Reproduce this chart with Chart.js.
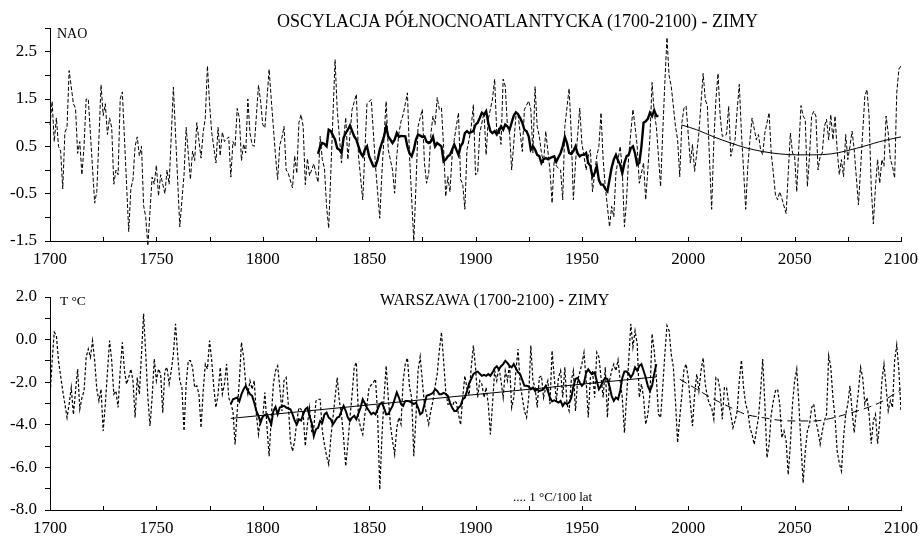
<!DOCTYPE html>
<html>
<head>
<meta charset="utf-8">
<script src="https://cdn.jsdelivr.net/npm/chart.js@4.4.1/dist/chart.umd.min.js"></script>
<style>
  body { margin: 0; background: #fff; width: 919px; height: 538px; overflow: hidden; position: relative;
         font-family: "Liberation Serif", "Times New Roman", serif; color: #000; }
  canvas { position: absolute; left: 0; }
  .lbl { position: absolute; white-space: nowrap; line-height: 1; }
</style>
</head>
<body>
<canvas id="chartNao" width="919" height="270" style="top:0"></canvas>
<canvas id="chartWaw" width="919" height="271" style="top:268px"></canvas>

<div class="lbl" style="left:277px; top:12px; font-size:18px;">OSCYLACJA PÓŁNOCNOATLANTYCKA (1700-2100) - ZIMY</div>
<div class="lbl" style="left:57px; top:27px; font-size:14px;">NAO</div>
<div class="lbl" style="left:380px; top:292px; font-size:16px; letter-spacing:0.1px;">WARSZAWA (1700-2100) - ZIMY</div>
<div class="lbl" style="left:60px; top:294px; font-size:13.5px;">T °C</div>
<div class="lbl" style="left:513px; top:490px; font-size:13px;">.... 1 °C/100 lat</div>

<script>
// NAO, zimy: wartości roczne od 1700 (null = rok nieodczytany)
const naoStart = 1700;
const naoAnnual = [
  0.95, 1.45, 0.6, 1.1, 0.5, 0.4, -0.4, 0.8, 0.9, 2.1,          // 1700
  null, 1.4, 1.3, 0.35, 0.6, -0.1, 0.5, 1.5, 1.5, null,         // 1710
  null, -0.7, -0.45, null, 1.8, 1.15, 1.4, 0.75, 1.1, 0.9,      // 1720
  -0.3, 0.0, -0.1, 1.5, 1.65, null, null, -1.3, -0.4, -0.2,     // 1730
  0.5, 0.7, 0.3, 0.5, -0.75, -1.0, -1.6, null, -0.15, -0.3,     // 1740
  0.1, -0.55, -0.1, null, -0.5, 0.0, -0.3, null, 1.75, null,    // 1750
  null, -1.2, null, -0.1, 0.9, null, -0.2, 0.4, 0.2, 1.0,       // 1760
  null, 0.25, 0.8, 1.1, 2.2, 1.4, 0.8, null, 0.15, 0.9,         // 1770
  0.3, 0.8, 0.6, null, 0.7, -0.15, 0.6, 0.5, 1.3, 1.1,          // 1780
  0.2, 0.55, 0.36, 1.5, 0.78, 0.53, 0.5, null, 1.79, 1.45,      // 1790
  0.96, 0.89, null, 2.13, 1.49, null, 0.3, -0.2, 0.53, 0.68,    // 1800
  0.92, 0.0, -0.07, null, -0.38, 0.3, -0.07, 1.0, 1.17, 0.92,   // 1810
  -0.31, 0.24, -0.12, null, 0.13, -0.07, -0.26, 0.71, 0.22, 0.04, // 1820
  -0.77, -1.23, null, null, 2.33, 1.28, null, 0.15, null, 1.11, // 1830
  0.22, null, 1.28, null, 1.6, 0.3, null, -0.63, null, 1.4,     // 1840
  null, 1.49, null, 0.08, null, -1.02, -0.07, null, 1.45, 0.43, // 1850
  null, 0.0, -0.49, 0.29, 0.78, 1.03, 1.17, null, 1.63, 0.29,   // 1860
  null, -1.5, -0.35, 0.92, null, 1.28, 0.15, -0.28, -0.07, 0.75, // 1870
  1.14, 0.96, 1.53, 1.28, 1.31, 0.5, -0.56, -0.14, -0.46, 0.29, // 1880
  0.64, null, 1.21, -0.2, -0.3, -0.83, 0.43, 0.64, 0.92, 1.38,  // 1890
  -0.1, -0.07, 0.78, null, 1.21, 0.32, 1.07, null, 1.5, 1.92,   // 1900
  0.78, 0.89, 0.54, 1.92, 1.77, 0.92, 0.78, 0.0, null, 1.14,    // 1910
  1.17, 0.78, 0.39, 1.28, null, 1.46, 1.28, 0.36, 1.76, 0.92,   // 1920
  0.71, 0.36, 0.15, 0.82, null, 0.0, -0.7, 0.22, 0.08, null,    // 1930
  0.0, -0.63, 0.92, null, 1.72, 0.78, -0.63, 0.15, null, 1.31,  // 1940
  0.57, null, 0.0, 0.29, 0.43, -0.46, -0.07, 0.29, 0.5, 1.21,   // 1950
  0.22, -0.35, null, -1.2, -0.77, -0.99, -0.07, null, 0.5, 0.0, // 1960
  -1.2, -0.63, 0.29, null, 1.28, 0.92, 0.5, -0.28, null, 0.15,  // 1970
  -0.63, 0.0, 0.71, 1.85, 1.21, 0.92, null, -0.35, 0.78, 1.85,  // 1980
  2.8, 1.99, 1.77, null, 0.92, 0.64, -0.14, 1.0, 1.31, 1.35,    // 1990
  null, 0.15, 0.54, -0.03, 0.36, 0.78, null, 2.04, 1.49, 1.35,  // 2000
  0.22, -0.83, 0.57, 1.49, 2.04, 1.14, 0.71, null, 0.75, 1.35,  // 2010
  0.29, 0.5, 0.64, 1.28, 1.81, 0.78, 0.0, -0.83, 0.08, 0.64,    // 2020
  1.1, null, 0.64, 0.75, 0.43, 0.32, 0.78, null, 1.21, 0.36,    // 2030
  -0.07, -0.53, -0.63, -0.46, -0.6, null, -0.92, -0.07, 0.78, 0.36, // 2040
  0.29, -0.46, 0.5, 1.36, 1.14, 1.07, -0.35, 0.29, 1.14, 1.24,  // 2050
  1.14, 0.0, 0.29, 0.36, 0.92, 1.07, 0.64, 1.17, 0.64, 1.14,    // 2060
  0.43, -0.1, 0.22, -0.14, 0.75, 0.22, 0.5, 0.82, 0.43, null,   // 2070
  -0.74, null, null, 1.56, 1.7, 1.14, -0.35, -1.14, -0.35, 0.22, // 2080
  -0.28, 0.22, 0.08, 1.14, 0.78, 0.22, 0.08, -0.17, 1.63, 2.13, // 2090
  2.2                                                            // 2100
];

// NAO wygładzone, od 1826
const naoSmoothStart = 1826;
const naoSmooth = [
  0.34, 0.5, 0.57, 0.55, 0.5, 0.85, 0.82, null, 0.64, 0.46,      // 1826
  0.43, 0.36, 0.68, 0.78, 0.85, 0.94, null, 0.71, 0.64, 0.5,     // 1836
  0.36, 0.29, 0.43, 0.5, 0.29, null, 0.08, 0.08, 0.22, 0.43,     // 1846
  null, 0.71, 0.92, 0.71, null, 0.57, 0.64, 0.78, 0.7, 0.72,     // 1856
  null, 0.71, 0.5, 0.35, 0.29, 0.43, 0.64, 0.75, null, 0.7,      // 1866
  0.71, 0.6, 0.57, 0.6, 0.7, 0.5, 0.57, null, 0.5, 0.18,         // 1876
  0.22, 0.29, 0.32, null, 0.54, 0.43, 0.32, 0.5, 0.57, 0.78,     // 1886
  0.82, 0.78, null, 0.82, 0.96, 1.0, 1.1, 1.21, 1.17, 1.24,      // 1896
  1.0, 0.82, 0.78, 0.82, 0.75, 0.82, 0.92, 0.85, 0.96, 0.92,     // 1906
  0.85, 1.0, 1.15, 1.22, 1.18, 1.1, 1.0, 0.85, 0.82, 0.71,       // 1916
  0.43, 0.5, 0.43, 0.32, 0.29, 0.15, 0.23, 0.25, 0.23, 0.25,     // 1926
  0.27, 0.29, 0.18, 0.27, 0.36, 0.5, 0.7, 0.57, 0.36, 0.34,      // 1936
  0.4, 0.5, 0.35, 0.29, 0.32, 0.32, 0.36, 0.15, 0.08, -0.14,     // 1946
  -0.07, 0.08, -0.21, -0.31, -0.31, -0.4, -0.45, -0.2, 0.05, 0.22, // 1956
  0.32, 0.2, 0.11, -0.07, 0.15, 0.29, 0.32, 0.46, 0.5, 0.35,     // 1966
  0.11, 0.15, 0.5, 1.0, 1.03, 1.08, 1.21, 1.14, 1.26, 1.14,      // 1976
  1.14                                                           // 1986
];

// NAO: krzywa prognozy 1997-2100
const naoTrendYears = [1997, 2004, 2012, 2020, 2027, 2035, 2043, 2051, 2059, 2067, 2074, 2084, 2090, 2100];
const naoTrendValues = [0.95, 0.85, 0.7, 0.57, 0.47, 0.39, 0.34, 0.32, 0.32, 0.34, 0.4, 0.52, 0.6, 0.7];

// Warszawa, zimy: temperatura roczna od 1700
const wawStart = 1700;
const wawAnnual = [
  -2.72, -0.99, 0.35, 0.19, -0.99, null, -2.41, -3.03, -3.66, -3.03,  // 1700
  -2.25, -3.51, -2.41, -1.38, -3.27, -2.72, -2.41, -0.83, -0.44, -0.83, // 1710
  -0.05, -0.99, -2.33, -2.88, -2.33, -4.29, -3.03, null, -0.05, -0.99,  // 1720
  -2.56, -2.41, -3.19, -1.46, -0.13, -1.46, -2.09, -1.78, -1.38, -1.93, // 1730
  -3.66, -1.78, -2.56, -0.68, 1.21, -0.68, -2.72, -4.06, -2.72, -0.91,  // 1740
  -1.93, -1.38, -1.62, -3.43, -1.46, -1.3, -2.09, -1.46, -0.68, 0.74,   // 1750
  -0.68, -1.93, -2.25, -4.29, -2.09, -0.99, -0.99, -1.3, -2.25, -2.17,  // 1760
  -2.56, -4.14, -2.41, -1.15, -1.38, -0.05, -0.99, -2.25, -3.19, -2.56, // 1770
  -1.3, -2.56, -2.09, -1.15, -2.72, -3.03, -3.35, -4.92, -3.35, -1.93,  // 1780
  -0.13, -0.83, -2.09, -2.56, -1.93, -2.33, -1.93, -3.51, -4.45, -3.66, // 1790
  -3.66, -2.48, -4.14, -5.47, -3.66, -2.09, -1.46, -1.23, -2.25, -3.35, // 1800
  -1.93, -1.78, -3.03, -4.76, -5.24, -4.76, -3.82, -3.19, -3.27, -3.51, // 1810
  -5.0, -3.98, -3.19, -4.29, -4.14, -2.88, -2.8, -2.8, -4.29, -4.92,    // 1820
  -5.47, -5.86, -4.61, -3.66, -2.72, -1.78, -2.88, -3.51, -4.61, -5.94, // 1830
  -4.92, -3.66, -2.56, -1.3, -1.07, -3.66, -4.14, -4.45, -3.51, -3.03,  // 1840
  -2.25, null, -2.01, -1.86, -3.51, -7.04, -4.61, -2.72, -1.23, -2.72,  // 1850
  -3.98, -4.76, -5.39, -4.14, -3.66, -3.98, -1.93, -1.15, -0.86, -2.25, // 1860
  -2.72, -5.47, -3.66, -1.46, -0.8, -1.93, -3.03, -3.51, -3.98, -3.35,  // 1870
  -2.88, -2.2, -1.62, -0.52, 0.35, -0.99, -2.41, -3.03, -3.03, -3.19,   // 1880
  -2.88, -2.96, -3.5, -4.0, -2.7, -1.7, -2.3, -2.6, -1.3, -0.28,        // 1890
  -1.3, -2.72, -1.93, -2.09, -2.72, -2.25, -3.03, -4.45, -3.03, -1.46,  // 1900
  -1.93, -1.3, -1.93, -2.72, -1.46, -1.93, -1.15, -3.19, -2.72, -1.46,  // 1910
  -0.44, -2.09, -2.72, -3.35, -3.66, -2.72, -0.28, -1.93, -2.25, -3.19, // 1920
  -1.78, -1.7, -2.72, -2.25, -1.93, -3.03, -0.52, -1.78, -2.88, -1.78,  // 1930
  -1.46, -2.72, -1.3, -3.03, -3.35, -1.93, -1.46, -3.35, -1.93, null,   // 1940
  -1.15, -0.6, -1.93, -3.66, -1.78, -1.46, -2.72, -0.6, -0.83, -1.78,   // 1950
  -2.72, -1.3, -3.66, -1.93, -1.46, -1.15, -1.46, -0.96, -1.93, -2.72,  // 1960
  -4.37, -2.72, -1.0, 0.74, -0.36, 0.42, -0.2, -2.72, -2.09, -2.72,     // 1970
  -3.98, -3.51, -2.56, 0.27, -0.52, -1.78, -3.51, -3.66, -2.25, -0.68,  // 1980
  0.66, 0.42, -0.68, -1.3, -2.9, -4.84, -3.66, -2.6, -1.4, -1.15,       // 1990
  -1.8, -3.0, -4.06, -2.56, -1.62, -2.41, -1.46, -0.86, -2.09, -2.72,   // 2000
  -3.03, -3.19, -3.74, -1.78, -1.86, -2.41, -3.74, -2.25, -2.25, -3.03, // 2010
  -3.51, -4.14, -3.82, -3.35, -1.93, -0.96, -2.25, -3.03, -3.35, -4.14, // 2020
  -4.45, -4.92, -4.29, -3.66, -2.41, -0.91, -3.0, -5.55, -4.92, -3.51,  // 2030
  -2.88, -2.41, -2.33, -3.03, -4.61, -4.29, -4.76, -6.34, -4.92, -3.03, // 2040
  -1.93, -1.38, -3.03, -4.92, -6.73, -5.24, -4.29, -3.98, -3.19, -3.03, // 2050
  -3.82, -4.29, -4.92, -4.29, -3.82, -3.51, -0.75, -1.3, -2.72, -3.66,  // 2060
  -5.24, -5.8, -6.18, -4.61, -3.51, -3.03, -2.17, -3.35, -4.37, -3.35,  // 2070
  -2.41, -1.3, -1.78, -3.03, -2.72, -3.51, -4.89, -3.82, -3.51, -4.89,  // 2080
  -3.82, -1.93, -1.15, -2.25, -3.35, -2.88, -3.19, -1.0, -0.24, -1.46,  // 2090
  -3.35                                                                  // 2100
];

// Warszawa wygładzone, od 1785
const wawSmoothStart = 1785;
const wawSmooth = [
  -3.03, -2.8, null, -2.72, -2.9, -2.56, -2.33, -2.17, -2.4, -2.56,     // 1785
  -2.64, -2.96, -3.35, -3.58, -3.9, -3.6, -3.55, -3.51, null, -3.98,    // 1795
  -3.35, -3.16, -3.51, -3.19, null, -3.11, -3.19, null, -3.27, -3.5,    // 1805
  -3.8, -3.98, -3.74, -3.8, -3.51, -3.27, -3.19, -3.6, -3.9, -4.53,     // 1815
  -4.21, -4.14, -3.82, -3.9, -3.51, -3.43, -3.66, -3.74, -3.98, -3.82,  // 1825
  -3.66, -3.62, -3.35, -3.11, -3.35, -3.66, -3.82, -3.66, -3.58, -3.74, // 1835
  null, -3.19, -2.8, -3.0, -3.2, -3.35, -3.51, -3.43, -3.51, -3.27,     // 1845
  -3.03, -2.96, -3.2, -3.51, -3.5, -3.3, -3.11, -2.8, -2.48, -2.72,     // 1855
  -3.03, -3.11, -2.88, -2.88, -2.9, -2.96, -3.03, -2.96, -3.19, -3.51,  // 1865
  -3.43, -3.03, -2.64, -2.6, -2.56, -2.5, -2.33, -2.41, -2.56, -2.56,   // 1875
  -2.5, -2.55, -2.64, -2.96, -3.19, -3.35, -3.35, -3.2, -3.1, -2.8,     // 1885
  -2.72, -2.41, -2.05, -1.85, -1.62, -1.54, -1.5, -1.6, -1.7, -1.65,    // 1895
  -1.7, -1.62, -1.7, -1.54, -1.35, -1.25, -1.4, -1.25, -1.15, -1.0,     // 1905
  -1.1, -1.23, -1.3, -1.15, -1.35, -1.54, -1.62, -1.9, -2.17, -2.17,    // 1915
  -2.2, -2.33, -2.25, -2.41, -2.33, -2.41, -2.38, -2.33, -2.17, -2.41,  // 1925
  -2.72, -2.9, -2.85, -2.9, -2.96, -2.88, -3.11, -2.96, -3.03, -2.96,   // 1935
  -2.75, -2.2, -1.85, -1.8, -2.01, -2.17, -2.05, -1.55, -1.4, -1.55,    // 1945
  -1.62, -1.54, -1.93, -2.33, -2.17, -1.93, -1.8, -1.85, -2.2, -2.64,   // 1955
  -2.88, -2.72, -2.8, -2.41, -1.8, -1.5, -1.5, -1.6, -1.78, -1.62,      // 1965
  -1.3, -1.46, -1.23, -1.15, -1.46, -1.78, -2.17, -2.41, -2.17, -1.6,   // 1975
  -1.15                                                                  // 1985
];

// Warszawa: linia trendu (1 °C/100 lat) i krzywa prognozy
const wawTrendYears = [1785, 1985];
const wawTrendValues = [-3.7, -1.75];
const wawFutureYears = [1996, 2004, 2012, 2020, 2027, 2035, 2043, 2051, 2059, 2067, 2074, 2082, 2090, 2100];
const wawFutureValues = [-1.86, -2.33, -2.8, -3.19, -3.51, -3.66, -3.79, -3.82, -3.82, -3.7, -3.51, -3.27, -2.96, -2.35];

function fromStart(start, values) {
  return values.map((v, i) => ({ x: start + i, y: v })).filter(p => p.y !== null);
}
function fromPairs(years, values) {
  return years.map((y, i) => ({ x: y, y: values[i] }));
}

// kreski podziałki osi X skierowane do wnętrza wykresu
const innerXTicks = {
  id: 'innerXTicks',
  afterDraw(chart) {
    const xs = chart.scales.x;
    const ctx = chart.ctx;
    ctx.save();
    ctx.strokeStyle = '#000';
    ctx.lineWidth = 1;
    ctx.beginPath();
    xs.ticks.forEach(t => {
      const px = Math.round(xs.getPixelForValue(t.value)) + 0.5;
      ctx.moveTo(px, xs.top);
      ctx.lineTo(px, xs.top - 4);
    });
    ctx.stroke();
    ctx.restore();
  }
};

Chart.defaults.font.family = '"Liberation Serif", "Times New Roman", serif';
Chart.defaults.color = '#000';

function buildChart(id, datasets, yMin, yMax, yStep, yLabel, padTop) {
  return new Chart(document.getElementById(id).getContext('2d'), {
    type: 'line',
    data: { datasets: datasets },
    plugins: [innerXTicks],
    options: {
      responsive: false,
      animation: false,
      events: [],
      layout: { padding: { left: 0, right: 18, top: padTop, bottom: 0 } },
      plugins: { legend: { display: false }, tooltip: { enabled: false } },
      elements: { point: { radius: 0 }, line: { tension: 0 } },
      scales: {
        x: {
          type: 'linear', min: 1700, max: 2100,
          grid: { display: false, drawTicks: true, tickLength: 8 },
          border: { display: true, color: '#000', width: 1 },
          ticks: {
            stepSize: 25, autoSkip: false, maxRotation: 0, padding: 0,
            font: { size: 17 },
            callback: v => (v % 50 === 0 ? String(v) : '')
          },
          afterFit: a => { a.height = 29; }
        },
        y: {
          min: yMin, max: yMax,
          grid: { drawOnChartArea: false, color: '#000', tickLength: 5 },
          border: { color: '#000', width: 1 },
          ticks: { stepSize: yStep, autoSkip: false, padding: 8, font: { size: 17 }, callback: yLabel },
          afterFit: a => { a.width = 50; }
        }
      }
    }
  });
}

buildChart('chartNao', [
  { data: fromStart(naoSmoothStart, naoSmooth), borderColor: '#000', borderWidth: 2.4, order: 0 },
  { data: fromPairs(naoTrendYears, naoTrendValues), borderColor: '#000', borderWidth: 1, cubicInterpolationMode: 'monotone', order: 1 },
  { data: fromStart(naoStart, naoAnnual), borderColor: '#000', borderWidth: 1, borderDash: [4, 2], clip: false, order: 2 }
], -1.5, 3.0, 0.5, v => (Math.round(v * 2) % 2 !== 0 ? v.toFixed(1) : ''), 28);

buildChart('chartWaw', [
  { data: fromStart(wawSmoothStart, wawSmooth), borderColor: '#000', borderWidth: 2, order: 0 },
  { data: fromPairs(wawTrendYears, wawTrendValues), borderColor: '#000', borderWidth: 1, order: 1 },
  { data: fromPairs(wawFutureYears, wawFutureValues), borderColor: '#000', borderWidth: 1, borderDash: [8, 5], cubicInterpolationMode: 'monotone', order: 1 },
  { data: fromStart(wawStart, wawAnnual), borderColor: '#000', borderWidth: 1.2, borderDash: [3, 2], order: 2 }
], -8, 2, 1, v => (v % 2 === 0 ? v.toFixed(1) : ''), 29);
</script>
</body>
</html>
